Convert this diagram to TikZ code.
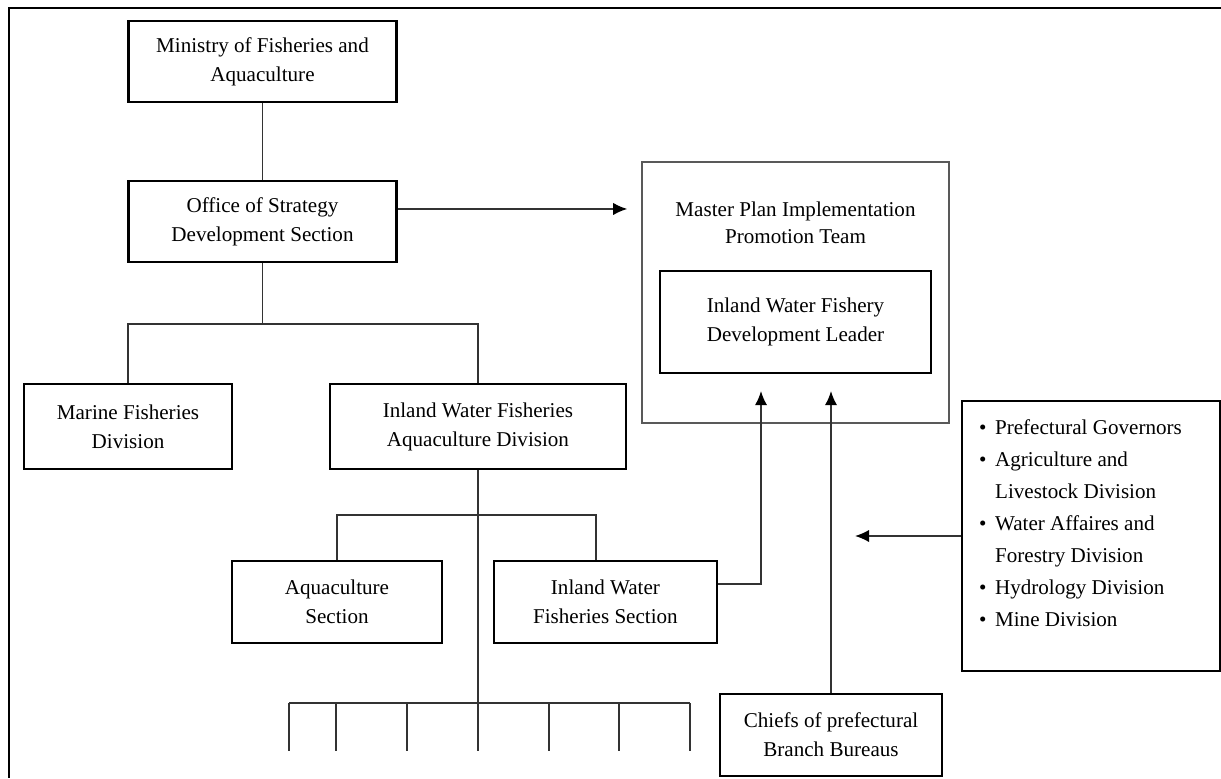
\documentclass[tikz,border=0pt]{standalone}
\usepackage{fontspec}
\setmainfont{Liberation Serif}
\usetikzlibrary{positioning,arrows.meta}
\tikzset{
    on grid,
    auto,
    block/.style = {
        draw,
        shape=rectangle,
        align=center,
        line width=1.3pt,
        font=\fontsize{12}{16.5}\selectfont
    },
    team/.style = {
        draw=black!65,
        shape=rectangle,
        line width=0.9pt
    },
    titletext/.style = {
        shape=rectangle,
        align=center,
        font=\fontsize{12}{15.5}\selectfont
    },
    link/.style = {
        draw=black!80,
        line width=0.85pt
    },
    frame/.style = {
        draw,
        line width=1.3pt
    },
    >={Latex[length=8pt,width=7pt,color=black]},
}

\begin{document}
\begin{tikzpicture}[x=0.02cm,y=-0.02cm]
        \useasboundingbox (0,0) rectangle (1221,778);
        \draw[frame] (1221,8) -- (9,8) -- (9,778);

        \node[block, minimum width=5.36cm, minimum height=1.62cm] (ministry) at (262.5,61.5) {Ministry of Fisheries and\\Aquaculture};
        \node[block, minimum width=5.36cm, minimum height=1.62cm, below=3.2cm of ministry] (office) {Office of Strategy\\Development Section};
        \node[block, minimum width=4.16cm, minimum height=1.7cm, below left=4.1cm and 2.69cm of office] (marine) {Marine Fisheries\\Division};
        \node[block, minimum width=5.92cm, minimum height=1.7cm, right=7cm of marine] (inlanddiv) {Inland Water Fisheries\\Aquaculture Division};
        \node[block, minimum width=4.2cm, minimum height=1.64cm, below left=3.51cm and 2.82cm of inlanddiv] (aquasec) {Aquaculture\\Section};
        \node[block, minimum width=4.46cm, minimum height=1.64cm, right=5.37cm of aquasec] (inlandsec) {Inland Water\\Fisheries Section};

        \node[team, minimum width=6.14cm, minimum height=5.22cm] (team) at (795.5,292.5) {};
        \node[titletext, above=1.4cm of team] (teamtitle) {Master Plan Implementation\\Promotion Team};
        \node[block, minimum width=5.42cm, minimum height=2.04cm, below=0.59cm of team] (leader) {Inland Water Fishery\\Development Leader};
        \node[block, minimum width=4.44cm, minimum height=1.64cm] (chiefs) at (831,735) {Chiefs of prefectural\\Branch Bureaus};
        \node[block, minimum width=5.16cm, minimum height=5.4cm] (others) at (1091,536) {};
        \node[anchor=west, inner sep=0pt, font=\fontsize{12}{18.2}\selectfont] (otherslist) at ([xshift=0.36cm,yshift=0.24cm]others.west) {%
            \begin{tabular}{@{}l@{\hspace{0.17cm}}l@{}}
            \textbullet & Prefectural Governors\\
            \textbullet & Agriculture and\\
                        & Livestock Division\\
            \textbullet & Water Affaires and\\
                        & Forestry Division\\
            \textbullet & Hydrology Division\\
            \textbullet & Mine Division
            \end{tabular}};

        % tree below the office
        \coordinate[below=1.22cm of office.south] (divjoin);
        \coordinate[below=0.9cm of inlanddiv.south] (secjoin);
        \coordinate[below=4.66cm of inlanddiv.south] (unitjoin);
        \coordinate (leaderin) at ([xshift=-0.69cm]leader.south);

        \path[link] (ministry) -- (office);
        \path[link] (office.south) -- (divjoin) -| (marine.north);
        \path[link] (divjoin) -| (inlanddiv.north);
        \path[link] (aquasec.north) |- (secjoin) -| ([xshift=-0.19cm]inlandsec.north);
        \path[link] (inlanddiv.south) -- (unitjoin);

        \foreach \name/\dx in {u1/-3.78, u2/-2.84, u3/-1.42, u4/0, u5/1.42, u6/2.82, u7/4.24}
            \coordinate (\name) at ([xshift=\dx cm]unitjoin);
        \path[link] (u1) -- (u7);
        \foreach \name in {u1,u2,u3,u4,u5,u6,u7}
            \path[link] (\name) -- ++(0,48);

        \path[link, ->, shorten >=0.28cm] ([yshift=0.25cm]office.east) -- ([yshift=0.25cm]office.east -| team.west);
        \path[link, ->, shorten >=0.34cm] ([yshift=0.36cm]inlandsec.east) -| (leaderin);
        \path[link, ->, shorten >=0.34cm] (chiefs.north) -- (chiefs.north |- leader.south);
        \path[link, ->, shorten >=0.48cm] (others.west) -- (others.west -| chiefs.north);
    \end{tikzpicture}
\end{document}
